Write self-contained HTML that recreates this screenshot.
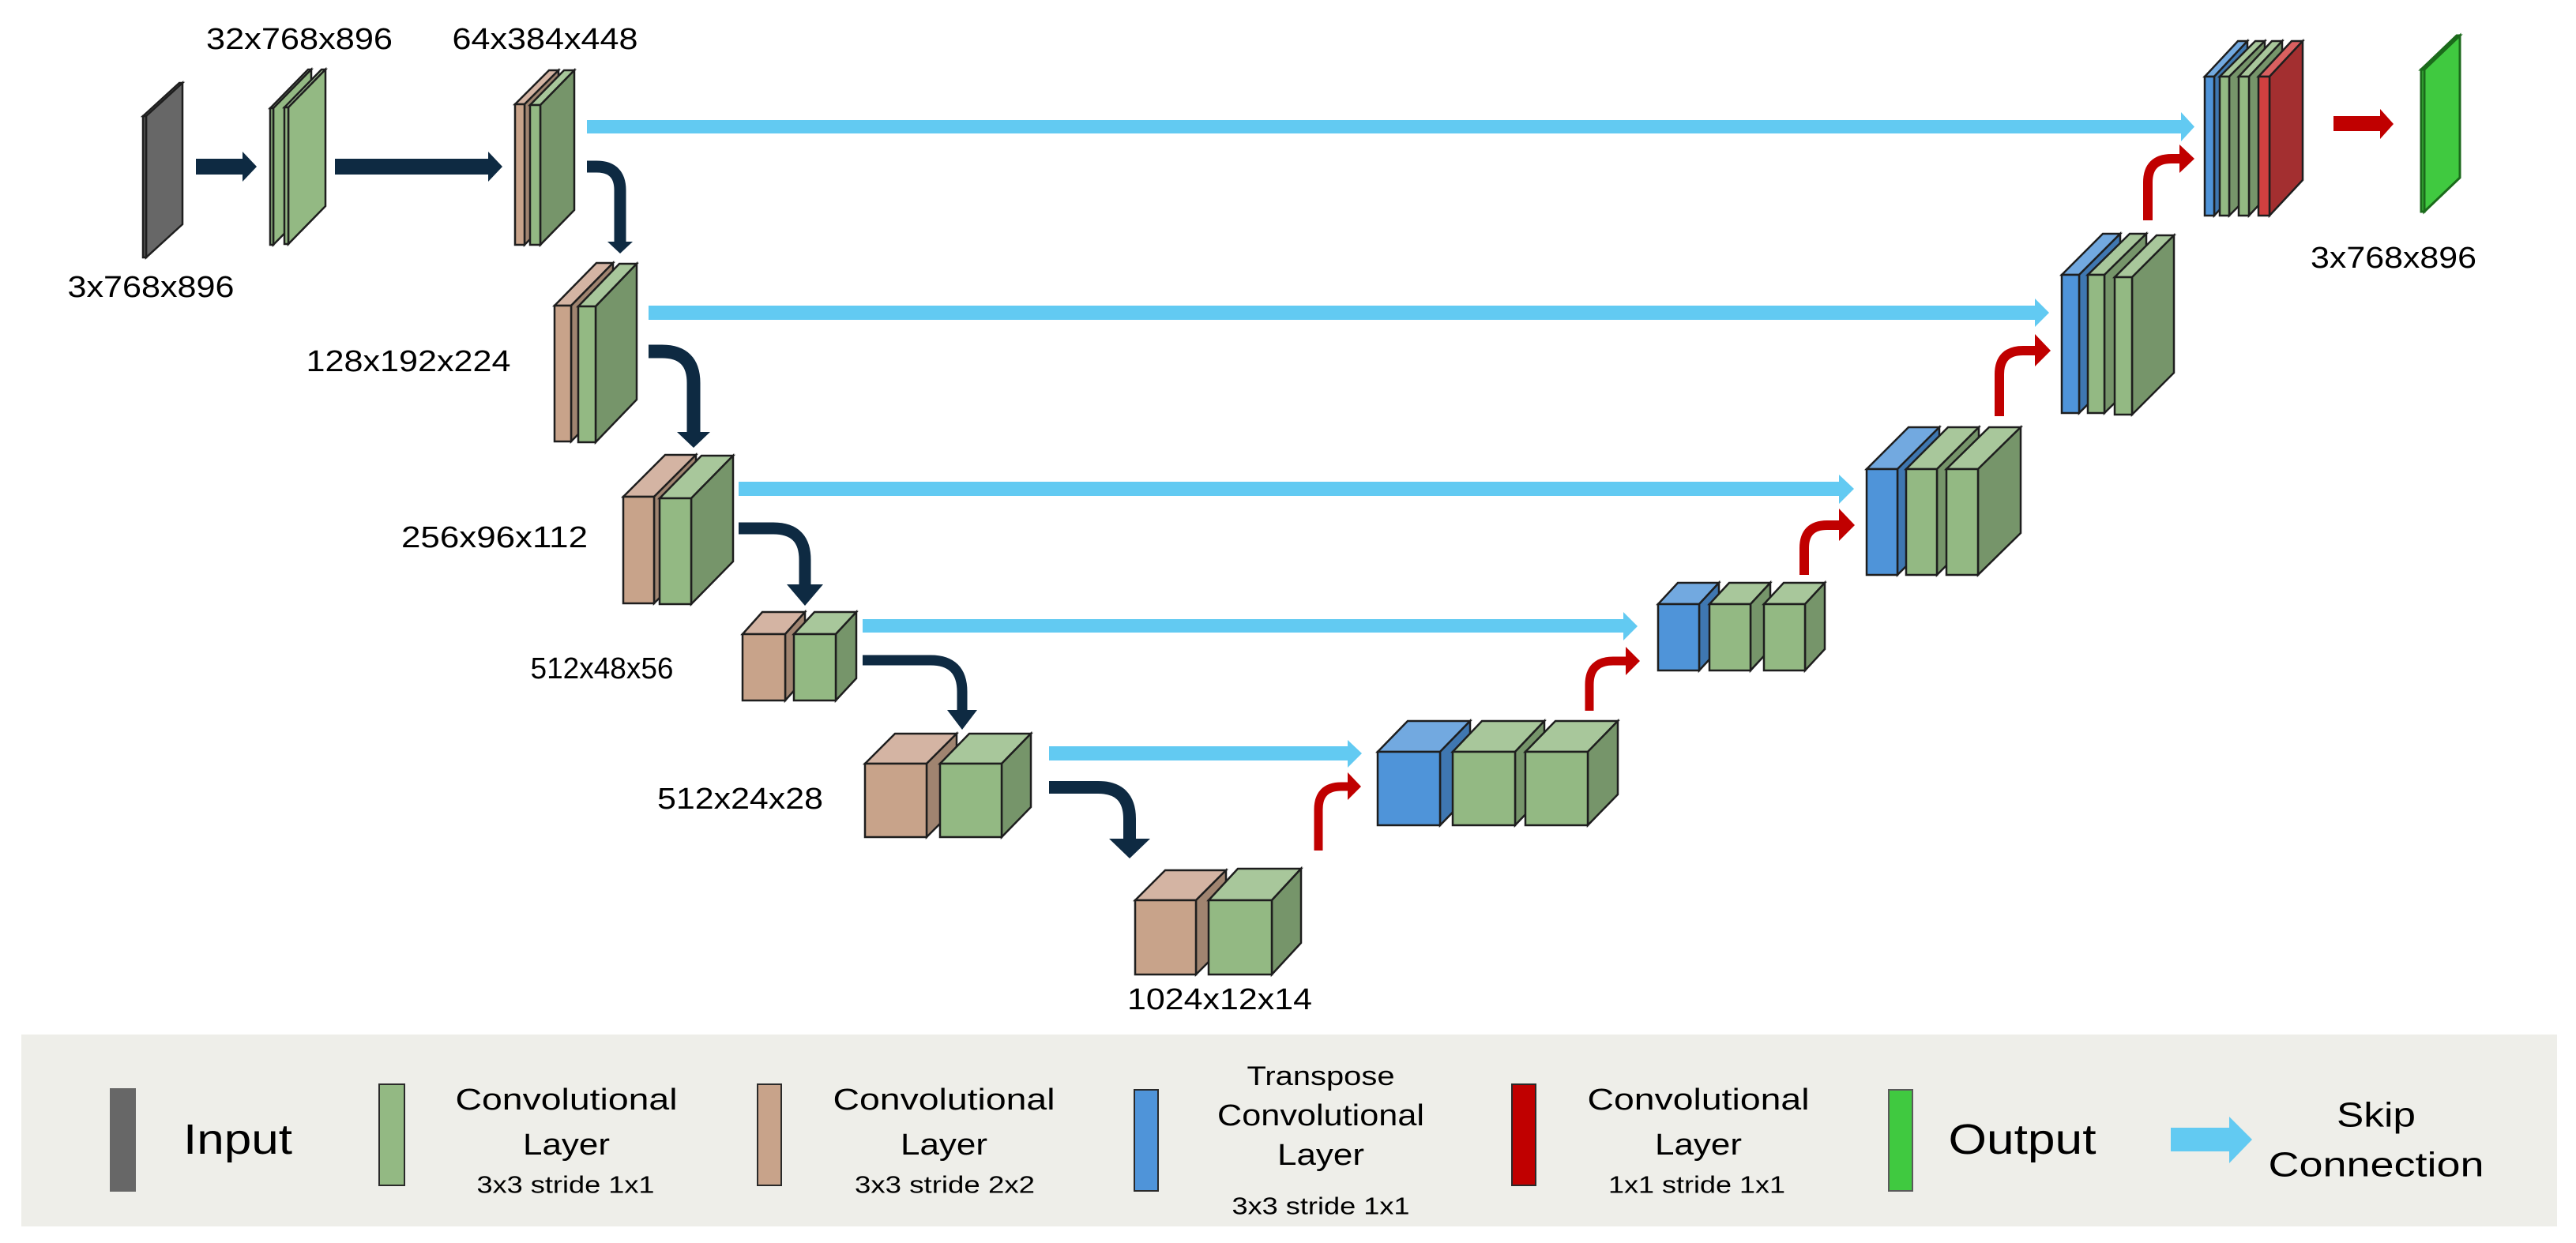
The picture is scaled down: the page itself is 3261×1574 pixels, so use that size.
<!DOCTYPE html>
<html><head><meta charset="utf-8"><style>
html,body{margin:0;padding:0;background:#fff;}
svg{display:block;}
text{font-family:"Liberation Sans",Arial,sans-serif;fill:#000;}
</style></head><body>
<svg width="3261" height="1574" viewBox="0 0 3261 1574" xmlns="http://www.w3.org/2000/svg">
<rect width="3261" height="1574" fill="#fff"/>
<g stroke="#1e1e1e" stroke-width="2.5" stroke-linejoin="miter">
<!-- input -->
<polygon points="181,147 227,105 231,105 185,147" fill="#888"/>
<polygon points="185,147 231,105 231,284 185,326" fill="#676767"/>
<rect x="181" y="147" width="4" height="179" fill="#555"/>
<!-- 32 -->
<polygon points="342,137 390,88 394,88 346,137" fill="#a8c79b"/>
<polygon points="346,137 394,88 394,261 346,310" fill="#93b983"/>
<rect x="342" y="137" width="4" height="173" fill="#93b983"/>
<polygon points="360,136 407,88 412,88 365,136" fill="#a8c79b"/>
<polygon points="365,136 412,88 412,261 365,309" fill="#93b983"/>
<rect x="360" y="136" width="5" height="173" fill="#93b983"/>
<!-- 64 -->
<polygon points="652,132 695,89 707,89 664,132" fill="#d4b4a3"/>
<polygon points="664,132 707,89 707,267 664,310" fill="#a08470"/>
<rect x="652" y="132" width="12" height="178" fill="#c8a38a"/>
<polygon points="671,133 714,89 727,89 684,133" fill="#a8c79b"/>
<polygon points="684,133 727,89 727,266 684,310" fill="#76956a"/>
<rect x="671" y="133" width="13" height="177" fill="#93b983"/>
<!-- 128 -->
<polygon points="702,387 755,333 776,333 723,387" fill="#d4b4a3"/>
<polygon points="723,387 776,333 776,505 723,559" fill="#a08470"/>
<rect x="702" y="387" width="21" height="172" fill="#c8a38a"/>
<polygon points="732,388 784,334 806,334 754,388" fill="#a8c79b"/>
<polygon points="754,388 806,334 806,506 754,560" fill="#76956a"/>
<rect x="732" y="388" width="22" height="172" fill="#93b983"/>
<!-- 256 -->
<polygon points="789,629 842,576 881,576 828,629" fill="#d4b4a3"/>
<polygon points="828,629 881,576 881,711 828,764" fill="#a08470"/>
<rect x="789" y="629" width="39" height="135" fill="#c8a38a"/>
<polygon points="835,631 888,577 928,577 875,631" fill="#a8c79b"/>
<polygon points="875,631 928,577 928,711 875,765" fill="#76956a"/>
<rect x="835" y="631" width="40" height="134" fill="#93b983"/>
<!-- 512x48 -->
<polygon points="940,803 965,775 1019,775 994,803" fill="#d4b4a3"/>
<polygon points="994,803 1019,775 1019,859 994,887" fill="#a08470"/>
<rect x="940" y="803" width="54" height="84" fill="#c8a38a"/>
<polygon points="1005,803 1031,775 1084,775 1058,803" fill="#a8c79b"/>
<polygon points="1058,803 1084,775 1084,859 1058,887" fill="#76956a"/>
<rect x="1005" y="803" width="53" height="84" fill="#93b983"/>
<!-- 512x24 -->
<polygon points="1095,967 1133,929 1211,929 1173,967" fill="#d4b4a3"/>
<polygon points="1173,967 1211,929 1211,1022 1173,1060" fill="#a08470"/>
<rect x="1095" y="967" width="78" height="93" fill="#c8a38a"/>
<polygon points="1190,967 1227,929 1305,929 1268,967" fill="#a8c79b"/>
<polygon points="1268,967 1305,929 1305,1022 1268,1060" fill="#76956a"/>
<rect x="1190" y="967" width="78" height="93" fill="#93b983"/>
<!-- 1024 -->
<polygon points="1437,1140 1475,1102 1552,1102 1514,1140" fill="#d4b4a3"/>
<polygon points="1514,1140 1552,1102 1552,1196 1514,1234" fill="#a08470"/>
<rect x="1437" y="1140" width="77" height="94" fill="#c8a38a"/>
<polygon points="1530,1140 1567,1100 1647,1100 1610,1140" fill="#a8c79b"/>
<polygon points="1610,1140 1647,1100 1647,1194 1610,1234" fill="#76956a"/>
<rect x="1530" y="1140" width="80" height="94" fill="#93b983"/>
<!-- dec 5 -->
<polygon points="1744,952 1782,913 1861,913 1823,952" fill="#72a9e0"/>
<polygon points="1823,952 1861,913 1861,1006 1823,1045" fill="#3f77b1"/>
<rect x="1744" y="952" width="79" height="93" fill="#4f94d9"/>
<polygon points="1839,952 1876,913 1955,913 1918,952" fill="#a8c79b"/>
<polygon points="1918,952 1955,913 1955,1006 1918,1045" fill="#76956a"/>
<rect x="1839" y="952" width="79" height="93" fill="#93b983"/>
<polygon points="1931,952 1969,913 2048,913 2010,952" fill="#a8c79b"/>
<polygon points="2010,952 2048,913 2048,1006 2010,1045" fill="#76956a"/>
<rect x="1931" y="952" width="79" height="93" fill="#93b983"/>
<!-- dec 4 -->
<polygon points="2099,765 2124,738 2176,738 2151,765" fill="#72a9e0"/>
<polygon points="2151,765 2176,738 2176,822 2151,849" fill="#3f77b1"/>
<rect x="2099" y="765" width="52" height="84" fill="#4f94d9"/>
<polygon points="2164,765 2189,738 2241,738 2216,765" fill="#a8c79b"/>
<polygon points="2216,765 2241,738 2241,822 2216,849" fill="#76956a"/>
<rect x="2164" y="765" width="52" height="84" fill="#93b983"/>
<polygon points="2233,765 2258,738 2310,738 2285,765" fill="#a8c79b"/>
<polygon points="2285,765 2310,738 2310,822 2285,849" fill="#76956a"/>
<rect x="2233" y="765" width="52" height="84" fill="#93b983"/>
<!-- dec 3 -->
<polygon points="2363,594 2416,541 2455,541 2402,594" fill="#72a9e0"/>
<polygon points="2402,594 2455,541 2455,675 2402,728" fill="#3f77b1"/>
<rect x="2363" y="594" width="39" height="134" fill="#4f94d9"/>
<polygon points="2413,594 2466,541 2505,541 2452,594" fill="#a8c79b"/>
<polygon points="2452,594 2505,541 2505,675 2452,728" fill="#76956a"/>
<rect x="2413" y="594" width="39" height="134" fill="#93b983"/>
<polygon points="2464,594 2518,541 2558,541 2504,594" fill="#a8c79b"/>
<polygon points="2504,594 2558,541 2558,675 2504,728" fill="#76956a"/>
<rect x="2464" y="594" width="40" height="134" fill="#93b983"/>
<!-- dec 2 -->
<polygon points="2610,348 2662,296 2684,296 2632,348" fill="#72a9e0"/>
<polygon points="2632,348 2684,296 2684,471 2632,523" fill="#3f77b1"/>
<rect x="2610" y="348" width="22" height="175" fill="#4f94d9"/>
<polygon points="2643,348 2696,296 2717,296 2664,348" fill="#a8c79b"/>
<polygon points="2664,348 2717,296 2717,471 2664,523" fill="#76956a"/>
<rect x="2643" y="348" width="21" height="175" fill="#93b983"/>
<polygon points="2677,351 2730,298 2752,298 2699,351" fill="#a8c79b"/>
<polygon points="2699,351 2752,298 2752,472 2699,525" fill="#76956a"/>
<rect x="2677" y="351" width="22" height="174" fill="#93b983"/>
<!-- dec 1 -->
<polygon points="2791,97 2833,52 2845,52 2803,97" fill="#72a9e0"/>
<polygon points="2803,97 2845,52 2845,228 2803,273" fill="#3f77b1"/>
<rect x="2791" y="97" width="12" height="176" fill="#4f94d9"/>
<polygon points="2810,97 2855,52 2867,52 2822,97" fill="#a8c79b"/>
<polygon points="2822,97 2867,52 2867,228 2822,273" fill="#76956a"/>
<rect x="2810" y="97" width="12" height="176" fill="#93b983"/>
<polygon points="2834,97 2876,52 2889,52 2847,97" fill="#a8c79b"/>
<polygon points="2847,97 2889,52 2889,228 2847,273" fill="#76956a"/>
<rect x="2834" y="97" width="13" height="176" fill="#93b983"/>
<polygon points="2859,97 2901,52 2915,52 2873,97" fill="#d96060"/>
<polygon points="2873,97 2915,52 2915,228 2873,273" fill="#a32f30"/>
<rect x="2859" y="97" width="14" height="176" fill="#d04040"/>
</g>
<!-- output -->
<g stroke="#1b6a1b" stroke-width="3">
<polygon points="3065,88 3110,45 3114,45 3069,88" fill="#40c940"/>
<polygon points="3069,88 3114,45 3114,225 3069,268" fill="#40c940"/>
<rect x="3065" y="88" width="4" height="180" fill="#40c940"/>
</g>

<!-- skip connections -->
<g fill="#62caf2">
<rect x="743" y="152" width="2018" height="17"/><polygon points="2761,142 2778,160.5 2761,179"/>
<rect x="821" y="387" width="1755" height="18"/><polygon points="2576,378 2594,396 2576,414"/>
<rect x="935" y="610" width="1393" height="18"/><polygon points="2328,601 2347,619 2328,638"/>
<rect x="1092" y="784" width="963" height="17"/><polygon points="2055,775 2073,793 2055,811"/>
<rect x="1328" y="945" width="378" height="18"/><polygon points="1706,937 1724,954 1706,972"/>
</g>

<!-- dark arrows -->
<g fill="#0e2a42">
<rect x="248" y="201" width="59" height="20"/><polygon points="307,192 325,211 307,230"/>
<rect x="424" y="201" width="194" height="20"/><polygon points="618,192 636,211 618,230"/>
<polygon points="769,306 801,306 785,321"/>
<polygon points="857,547 899,547 878,567"/>
<polygon points="996,740 1042,740 1019,767"/>
<polygon points="1199,899 1237,899 1218,924"/>
<polygon points="1404,1062 1456,1062 1430,1087"/>
</g>
<g fill="none" stroke="#0e2a42">
<path d="M743,211 H755 Q785,211 785,241 V307" stroke-width="15"/>
<path d="M821,445 H838 Q878,445 878,485 V548" stroke-width="17"/>
<path d="M935,669 H979 Q1019,669 1019,709 V741" stroke-width="15"/>
<path d="M1092,836 H1178 Q1218,836 1218,876 V900" stroke-width="13"/>
<path d="M1328,997 H1390 Q1430,997 1430,1037 V1063" stroke-width="16"/>
</g>

<!-- red arrows -->
<g fill="none" stroke="#c00000">
<path d="M1669,1077 V1025 Q1669,996 1698,996 H1707" stroke-width="11"/>
<path d="M2012,900 V867 Q2012,837 2042,837 H2059" stroke-width="11"/>
<path d="M2284,728 V694 Q2284,665 2313,665 H2329" stroke-width="12"/>
<path d="M2531,527 V474 Q2531,444 2561,444 H2577" stroke-width="12"/>
<path d="M2719,279 V231 Q2719,201 2749,201 H2760" stroke-width="12"/>
</g>
<g fill="#c00000">
<polygon points="1706,978 1723,996 1706,1013"/>
<polygon points="2058,819 2076,837 2058,855"/>
<polygon points="2328,644 2348,665 2328,685"/>
<polygon points="2576,423 2596,444 2576,464"/>
<polygon points="2759,183 2778,201 2759,219"/>
<rect x="2954" y="147" width="59" height="19"/><polygon points="3013,138 3030,157 3013,176"/>
</g>

<!-- labels -->
<g font-size="38" text-anchor="middle" dominant-baseline="central">
<text x="379" y="50" textLength="236" lengthAdjust="spacingAndGlyphs">32x768x896</text>
<text x="690" y="50" textLength="235" lengthAdjust="spacingAndGlyphs">64x384x448</text>
<text x="191" y="364" textLength="211" lengthAdjust="spacingAndGlyphs">3x768x896</text>
<text x="517" y="458" textLength="259" lengthAdjust="spacingAndGlyphs">128x192x224</text>
<text x="626" y="681" textLength="236" lengthAdjust="spacingAndGlyphs">256x96x112</text>
<text x="762" y="847" textLength="181" lengthAdjust="spacingAndGlyphs">512x48x56</text>
<text x="937" y="1012" textLength="210" lengthAdjust="spacingAndGlyphs">512x24x28</text>
<text x="1544" y="1266" textLength="234" lengthAdjust="spacingAndGlyphs">1024x12x14</text>
<text x="3030" y="327" textLength="210" lengthAdjust="spacingAndGlyphs">3x768x896</text>
</g>

<!-- legend -->
<rect x="27" y="1310" width="3210" height="243" fill="#eeeee9"/>
<rect x="139" y="1378" width="33" height="131" fill="#676767"/>
<rect x="480" y="1373" width="32" height="128" fill="#93b983" stroke="#2a2a2a" stroke-width="2"/>
<rect x="959" y="1373" width="30" height="128" fill="#c8a38a" stroke="#2a2a2a" stroke-width="2"/>
<rect x="1436" y="1380" width="30" height="128" fill="#4f94d9" stroke="#2a2a2a" stroke-width="2"/>
<rect x="1914" y="1373" width="30" height="128" fill="#c00000" stroke="#2a2a2a" stroke-width="2"/>
<rect x="2391" y="1380" width="30" height="128" fill="#40c940" stroke="#5a5a5a" stroke-width="2"/>
<rect x="2748" y="1428" width="75" height="30" fill="#62caf2"/>
<polygon points="2822,1414 2851,1443 2822,1473" fill="#62caf2"/>
<g text-anchor="middle" dominant-baseline="central">
<text x="301" y="1443" font-size="54" textLength="138" lengthAdjust="spacingAndGlyphs">Input</text>
<text x="717" y="1393" font-size="38" textLength="281" lengthAdjust="spacingAndGlyphs">Convolutional</text>
<text x="717" y="1450" font-size="38" textLength="110" lengthAdjust="spacingAndGlyphs">Layer</text>
<text x="716" y="1500" font-size="31" textLength="225" lengthAdjust="spacingAndGlyphs">3x3 stride 1x1</text>
<text x="1195" y="1393" font-size="38" textLength="281" lengthAdjust="spacingAndGlyphs">Convolutional</text>
<text x="1195" y="1450" font-size="38" textLength="110" lengthAdjust="spacingAndGlyphs">Layer</text>
<text x="1196" y="1500" font-size="31" textLength="228" lengthAdjust="spacingAndGlyphs">3x3 stride 2x2</text>
<text x="1672" y="1363" font-size="34" textLength="187" lengthAdjust="spacingAndGlyphs">Transpose</text>
<text x="1672" y="1413" font-size="38" textLength="262" lengthAdjust="spacingAndGlyphs">Convolutional</text>
<text x="1672" y="1463" font-size="38" textLength="110" lengthAdjust="spacingAndGlyphs">Layer</text>
<text x="1672" y="1527" font-size="31" textLength="225" lengthAdjust="spacingAndGlyphs">3x3 stride 1x1</text>
<text x="2150" y="1393" font-size="38" textLength="281" lengthAdjust="spacingAndGlyphs">Convolutional</text>
<text x="2150" y="1450" font-size="38" textLength="110" lengthAdjust="spacingAndGlyphs">Layer</text>
<text x="2148" y="1500" font-size="31" textLength="224" lengthAdjust="spacingAndGlyphs">1x1 stride 1x1</text>
<text x="2560" y="1443" font-size="54" textLength="187" lengthAdjust="spacingAndGlyphs">Output</text>
<text x="3008" y="1412" font-size="44" textLength="100" lengthAdjust="spacingAndGlyphs">Skip</text>
<text x="3008" y="1475" font-size="44" textLength="273" lengthAdjust="spacingAndGlyphs">Connection</text>
</g>
</svg>
</body></html>
